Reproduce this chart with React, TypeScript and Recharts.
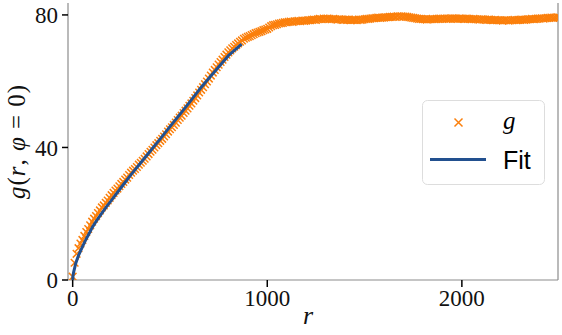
import React from 'react';
import { ComposedChart, Scatter, XAxis, YAxis, Legend, Label } from 'recharts';

// g(r, phi=0) samples, r step of 10 starting at 0
const R_STEP = 10;
const gValues: number[] = [
  1.0, 5.2, 7.9, 9.6, 11.0, 12.1, 13.3, 14.5, 15.4, 16.5,
  17.6, 18.5, 19.3, 20.2, 21.0, 21.9, 22.5, 23.3, 24.0, 24.8,
  25.6, 26.3, 27.0, 27.6, 28.3, 29.0, 29.6, 30.3, 30.9, 31.7,
  32.4, 33.0, 33.5, 34.1, 34.8, 35.4, 36.0, 36.6, 37.3, 38.0,
  38.7, 39.3, 40.0, 40.7, 41.3, 42.0, 42.6, 43.3, 44.0, 44.8,
  45.5, 46.1, 46.8, 47.5, 48.3, 49.0, 49.6, 50.4, 51.1, 51.8,
  52.6, 53.3, 54.1, 54.9, 55.7, 56.6, 57.4, 58.2, 59.1, 59.9,
  60.8, 61.7, 62.6, 63.4, 64.2, 65.0, 65.8, 66.5, 67.3, 68.0,
  68.7, 69.3, 69.9, 70.4, 70.9, 71.4, 71.9, 72.3, 72.8, 73.1,
  73.4, 73.6, 73.9, 74.2, 74.5, 74.7, 74.9, 75.1, 75.4, 75.6,
  75.8, 76.2, 76.6, 76.9, 77.0, 77.2, 77.4, 77.5, 77.6, 77.8,
  77.8, 77.9, 78.0, 77.9, 78.1, 78.1, 78.2, 78.1, 78.3, 78.2,
  78.3, 78.4, 78.4, 78.5, 78.6, 78.5, 78.7, 78.8, 78.7, 78.9,
  78.8, 78.9, 78.8, 78.7, 78.8, 78.7, 78.6, 78.7, 78.6, 78.5,
  78.6, 78.5, 78.6, 78.4, 78.5, 78.5, 78.4, 78.6, 78.5, 78.6,
  78.7, 78.8, 78.8, 78.9, 79.0, 79.0, 79.1, 79.2, 79.1, 79.2,
  79.2, 79.3, 79.3, 79.4, 79.4, 79.5, 79.4, 79.6, 79.5, 79.6,
  79.5, 79.5, 79.4, 79.3, 79.2, 79.1, 79.0, 78.9, 78.8, 78.8,
  78.7, 78.7, 78.6, 78.7, 78.7, 78.8, 78.7, 78.8, 78.8, 78.9,
  78.8, 78.9, 78.8, 78.9, 78.9, 79.0, 78.9, 78.9, 78.8, 78.9,
  78.9, 78.8, 78.9, 78.8, 78.8, 78.7, 78.8, 78.7, 78.7, 78.6,
  78.7, 78.6, 78.6, 78.5, 78.6, 78.5, 78.4, 78.5, 78.4, 78.4,
  78.4, 78.3, 78.4, 78.4, 78.3, 78.4, 78.4, 78.5, 78.4, 78.5,
  78.5, 78.6, 78.5, 78.6, 78.7, 78.7, 78.8, 78.7, 78.8, 78.9,
  78.9, 79.0, 78.9, 79.0, 79.1, 79.1, 79.2, 79.1, 79.2, 79.3,
  79.2,
];

// Fit curve samples
const fitR: number[] = [0, 2, 5, 10, 15, 22, 30, 40, 50, 62, 75, 88, 100, 125, 150, 175, 200, 250, 300, 350, 400, 450, 500, 550, 600, 650, 700, 750, 800, 868];
const fitG: number[] = [0, 1.4, 2.4, 3.6, 4.9, 6.1, 7.4, 8.7, 10.0, 11.5, 13.0, 14.4, 15.8, 18.1, 20.2, 22.2, 24.1, 28.0, 31.8, 35.4, 39.0, 42.6, 46.3, 49.9, 53.6, 57.4, 60.9, 64.3, 67.7, 71.2];

const xTicks = [0, 1000, 2000];
const yTicks = [0, 40, 80];

const ORANGE = '#fb7f0b';
const BLUE = '#22508f';

const scatterData = gValues.map((g, i) => ({ r: i * R_STEP, g }));
const fitData = fitR.map((r, i) => ({ r, g: fitG[i] }));

const XMark = (props: any) => {
  const { cx, cy } = props;
  if (cx == null || cy == null) return <g />;
  const s = 3.8;
  return (
    <path
      d={`M${cx - s},${cy - s}L${cx + s},${cy + s}M${cx - s},${cy + s}L${cx + s},${cy - s}`}
      stroke={ORANGE}
      strokeWidth={1.5}
      fill="none"
    />
  );
};

const NoMark = () => <g />;

const serif = '"Liberation Serif", "DejaVu Serif", serif';
const sans = '"Liberation Sans", "DejaVu Sans", sans-serif';

const renderLegend = () => (
  <svg width={124} height={86} style={{ display: 'block' }}>
    <rect x={0.5} y={0.5} width={122} height={84} rx={5} ry={5} fill="rgba(255,255,255,0.85)" stroke="#dddddd" />
    <path d="M32.5,18.5L40.5,26.5M32.5,26.5L40.5,18.5" stroke={ORANGE} strokeWidth={1.5} />
    <text x={81} y={29} fontFamily={serif} fontStyle="italic" fontSize={25} fill="#000">g</text>
    <line x1={8} x2={64} y1={59.5} y2={59.5} stroke={BLUE} strokeWidth={3} />
    <text x={81} y={69} fontFamily={sans} fontSize={25} fill="#000">Fit</text>
  </svg>
);

export default function App() {
  return (
    <div style={{ position: 'absolute', left: 0, top: 0, width: 562, height: 335 }}>
      <ComposedChart width={562} height={335} margin={{ top: 3, right: 0, bottom: 0, left: 0 }}>
        <XAxis
          dataKey="r"
          type="number"
          domain={[-24, 2494]}
          ticks={xTicks}
          allowDataOverflow
          height={55}
          axisLine={{ stroke: '#8c8c8c', strokeWidth: 1.2 }}
          tickLine={{ stroke: '#000', strokeWidth: 1.5 }}
          tickSize={7}
          tickMargin={3}
          tick={{ fontFamily: serif, fontSize: 23, fill: '#111' }}
        >
          <Label
            content={() => (
              <text x={308} y={324} textAnchor="middle" fontFamily={serif} fontStyle="italic" fontSize={26} fill="#111">
                r
              </text>
            )}
          />
        </XAxis>
        <XAxis
          xAxisId="top"
          orientation="top"
          type="number"
          domain={[-24, 2494]}
          height={0}
          tick={false}
          tickLine={false}
          axisLine={{ stroke: '#c8c8c8', strokeWidth: 1.2 }}
        />
        <YAxis
          dataKey="g"
          type="number"
          domain={[0, 83.6]}
          ticks={yTicks}
          allowDataOverflow
          width={68}
          axisLine={{ stroke: '#8c8c8c', strokeWidth: 1.2 }}
          tickLine={{ stroke: '#000', strokeWidth: 1.5 }}
          tickSize={6}
          tickMargin={4}
          tick={{ fontFamily: serif, fontSize: 23, fill: '#111' }}
        >
          <Label
            content={() => (
              <text
                x={0}
                y={0}
                transform="translate(25,142) rotate(-90)"
                textAnchor="middle"
                fontFamily={serif}
                fontSize={25}
                fill="#111"
                textLength={114}
                lengthAdjust="spacing"
              >
                <tspan fontStyle="italic">g</tspan>
                <tspan>(</tspan>
                <tspan fontStyle="italic">r</tspan>
                <tspan>, </tspan>
                <tspan fontStyle="italic">φ</tspan>
                <tspan> = 0)</tspan>
              </text>
            )}
          />
        </YAxis>
        <YAxis
          yAxisId="right"
          orientation="right"
          type="number"
          domain={[0, 83.6]}
          width={4}
          tick={false}
          tickLine={false}
          axisLine={{ stroke: '#8c8c8c', strokeWidth: 1.2 }}
        />
        <Scatter data={scatterData} dataKey="g" shape={XMark} isAnimationActive={false} />
        <Scatter
          data={fitData}
          dataKey="g"
          shape={NoMark}
          line={{ stroke: BLUE, strokeWidth: 3, strokeLinejoin: 'round', strokeLinecap: 'butt' }}
          lineType="joint"
          isAnimationActive={false}
        />
        <Legend
          layout="vertical"
          align="center"
          verticalAlign="middle"
          content={renderLegend}
          wrapperStyle={{ position: 'absolute', left: 422, top: 100, width: 124, height: 86 }}
        />
      </ComposedChart>
    </div>
  );
}
